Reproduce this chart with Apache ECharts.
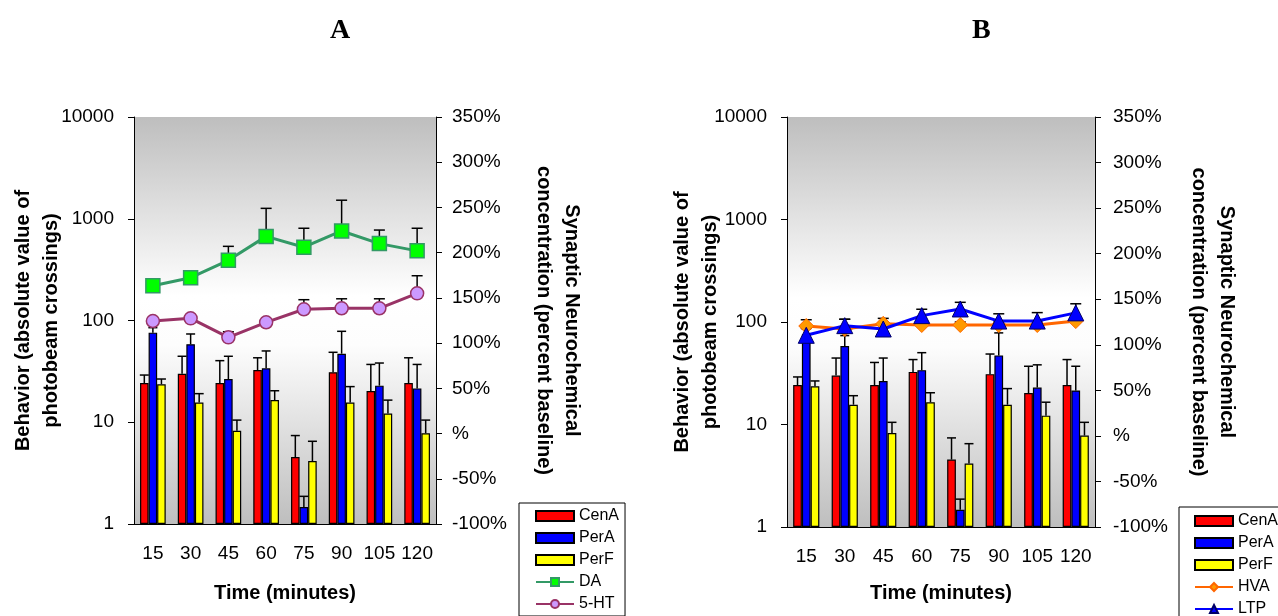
<!DOCTYPE html>
<html>
<head>
<meta charset="utf-8">
<script src="https://cdn.jsdelivr.net/npm/echarts@6/dist/echarts.min.js"></script>
<style>
html,body{margin:0;padding:0;background:#fff;}
#main{width:1278px;height:616px;}
</style>
</head>
<body>
<div id="main"></div>
<script>
// ---- data ----
const categories = ['15', '30', '45', '60', '75', '90', '105', '120'];
const cenA   = [24.3, 30, 24.3, 32.6, 4.55, 31, 20.3, 24.3];
const cenAUp = [29.1, 44.5, 40.3, 43, 7.4, 48.7, 37, 43];
const perA   = [76, 58.4, 26.6, 33.9, 1.47, 47.2, 22.9, 21.5];
const perAUp = [85, 73.7, 44.5, 50.2, 1.87, 78.3, 38.2, 37];
const perF   = [23.6, 15.6, 8.26, 16.5, 4.16, 15.6, 12.2, 7.8];
const perFUp = [26.6, 19.1, 10.5, 20.4, 6.5, 22.4, 16.5, 10.5];
const da     = [163.5, 172.3, 191.5, 218, 206, 224, 210, 202];
const daUp   = [170, 180, 207, 249, 227, 258, 225, 227];
const ht5    = [124.4, 127.4, 106.4, 123, 137.4, 138.5, 138.5, 155];
const ht5Up  = [127, 130, 112.6, 126, 148, 149, 149, 174.5];
const hva    = [120.6, 117.3, 123, 121.7, 121.7, 121.7, 121.7, 126];
const hvaUp  = [127.5, 128, 129, 125, 125, 125, 125, 129];
const ltp    = [110.4, 121, 117.3, 132, 139.3, 126, 126, 135];
const ltpUp  = [118, 128, 121, 139, 146.6, 134, 135.3, 145];
const leftTicksMax = 10000, leftTicksMin = 1;
const rightMin = -100, rightMax = 350, rightStep = 50;

const FONT = "'Liberation Sans', Arial, sans-serif";
const GAP = 0.32;

function barErrData(vals, ups, k) {
  return vals.map((v, i) => [i, v, ups[i], k]);
}
function lineErrData(vals, ups) {
  return vals.map((v, i) => [i, v, ups[i]]);
}
function barErrRender(params, api) {
  const i = api.value(0), v = api.value(1), up = api.value(2), k = api.value(3);
  const a = api.coord([i, v]);
  const b = api.coord([i, up]);
  const band = api.size([1, 0])[0];
  const w = band * (1 - GAP) / 3;
  const x = a[0] + (k - 1) * w;
  const cap = 4.5;
  const st = { stroke: '#000', lineWidth: 1.5 };
  return { type: 'group', children: [
    { type: 'line', shape: { x1: x, y1: a[1], x2: x, y2: b[1] }, style: st },
    { type: 'line', shape: { x1: x - cap, y1: b[1], x2: x + cap, y2: b[1] }, style: st }
  ]};
}
function lineErrRender(params, api) {
  const i = api.value(0), v = api.value(1), up = api.value(2);
  const a = api.coord([i, v]);
  const b = api.coord([i, up]);
  const cap = 5.5;
  const st = { stroke: '#000', lineWidth: 1.5 };
  return { type: 'group', children: [
    { type: 'line', shape: { x1: a[0], y1: a[1], x2: a[0], y2: b[1] }, style: st },
    { type: 'line', shape: { x1: a[0] - cap, y1: b[1], x2: a[0] + cap, y2: b[1] }, style: st }
  ]};
}

const bg = { type: 'linear', x: 0, y: 0, x2: 0, y2: 1, colorStops: [
  { offset: 0, color: '#bebebe' },
  { offset: 0.44, color: '#ffffff' },
  { offset: 0.56, color: '#fdfdfd' },
  { offset: 1, color: '#bebebe' }
]};

function xAxis(gridIndex, nameGap) {
  return {
    type: 'category', gridIndex, data: categories, boundaryGap: true,
    axisLine: { onZero: false, lineStyle: { color: '#000', width: 1 } },
    axisTick: { length: 6, lineStyle: { color: '#000' } },
    axisLabel: { color: '#000', fontSize: 19, fontFamily: FONT, margin: 20, interval: 0 },
    name: 'Time (minutes)', nameLocation: 'middle', nameGap,
    nameTextStyle: { color: '#000', fontSize: 20, fontWeight: 'bold', fontFamily: FONT }
  };
}
function yLeft(gridIndex, nameGap) {
  return {
    type: 'log', logBase: 10, gridIndex, min: leftTicksMin, max: leftTicksMax,
    axisLine: { show: true, lineStyle: { color: '#000', width: 1 } },
    axisTick: { show: true, length: 6, lineStyle: { color: '#000' } },
    splitLine: { show: false },
    axisLabel: { color: '#000', fontSize: 19, fontFamily: FONT, margin: 20,
      formatter: v => String(Math.round(v)) },
    name: 'Behavior (absolute value of\nphotobeam crossings)',
    nameLocation: 'middle', nameGap, nameRotate: 90, nameMoveOverlap: false,
    nameTextStyle: { color: '#000', fontSize: 20, fontWeight: 'bold', fontFamily: FONT, lineHeight: 28, align: 'center' }
  };
}
function yRight(gridIndex, nameGap, margin) {
  return {
    type: 'value', gridIndex, position: 'right', min: rightMin, max: rightMax, interval: rightStep,
    axisLine: { show: true, onZero: false, lineStyle: { color: '#000', width: 1 } },
    axisTick: { show: true, length: 6, lineStyle: { color: '#000' } },
    splitLine: { show: false },
    axisLabel: { color: '#000', fontSize: 19, fontFamily: FONT, margin,
      formatter: v => (v === 0 ? '%' : v + '%') },
    name: 'Synaptic Neurochemical\nconcentration (percent baseline)',
    nameLocation: 'middle', nameGap, nameRotate: -90, nameMoveOverlap: false,
    nameTextStyle: { color: '#000', fontSize: 20, fontWeight: 'bold', fontFamily: FONT, lineHeight: 28, align: 'center' }
  };
}

function bars(xi, yi) {
  const common = { type: 'bar', xAxisIndex: xi, yAxisIndex: yi, barGap: '0%', barCategoryGap: (GAP * 100) + '%' };
  return [
    Object.assign({ name: 'CenA', data: cenA, itemStyle: { color: '#ff0000', borderColor: '#000', borderWidth: 1.2 } }, common),
    Object.assign({ name: 'PerA', data: perA, itemStyle: { color: '#0000ff', borderColor: '#000', borderWidth: 1.2 } }, common),
    Object.assign({ name: 'PerF', data: perF, itemStyle: { color: '#ffff00', borderColor: '#000', borderWidth: 1.2 } }, common),
    { type: 'custom', xAxisIndex: xi, yAxisIndex: yi, renderItem: barErrRender, z: 3,
      encode: { x: 0, y: [1, 2] },
      data: [].concat(barErrData(cenA, cenAUp, 0), barErrData(perA, perAUp, 1), barErrData(perF, perFUp, 2)) }
  ];
}
function lineErr(xi, yi, vals, ups) {
  return { type: 'custom', xAxisIndex: xi, yAxisIndex: yi, renderItem: lineErrRender, z: 3,
    encode: { x: 0, y: [1, 2] }, data: lineErrData(vals, ups) };
}

const legendCommon = {
  orient: 'vertical', itemWidth: 38, itemHeight: 10, itemGap: 6,
  borderColor: '#000', borderWidth: 1, backgroundColor: '#fff',
  textStyle: { fontFamily: FONT, fontSize: 16, color: '#000', lineHeight: 16 }
};
const barLegend = [{ name: 'CenA', icon: 'rect' }, { name: 'PerA', icon: 'rect' }, { name: 'PerF', icon: 'rect' }];

const option = {
  animation: false,
  backgroundColor: '#fff',
  title: [
    { text: 'A', left: 325, top: 12, textStyle: { fontFamily: "'Liberation Serif', 'Times New Roman', serif", fontSize: 28, fontWeight: 'bold', color: '#000' } },
    { text: 'B', left: 967, top: 12, textStyle: { fontFamily: "'Liberation Serif', 'Times New Roman', serif", fontSize: 28, fontWeight: 'bold', color: '#000' } }
  ],
  grid: [
    { left: 134, right: 1278 - 436, top: 117, bottom: 616 - 524, show: true, backgroundColor: bg, borderWidth: 0 },
    { left: 787, right: 1278 - 1095, top: 117, bottom: 616 - 527, show: true, backgroundColor: bg, borderWidth: 0 }
  ],
  legend: [
    Object.assign({ left: 519, top: 503, height: 130, data: barLegend.concat(['DA', '5-HT']), padding: [5, 6, 4, 16] }, legendCommon),
    Object.assign({ left: 1179, top: 507, height: 130, data: barLegend.concat(['HVA', 'LTP']), padding: [6, 6, 4, 15] }, legendCommon)
  ],
  xAxis: [ xAxis(0, 59), xAxis(1, 56) ],
  yAxis: [ yLeft(0, 69), yRight(0, 94, 16), yLeft(1, 63), yRight(1, 90, 18) ],
  series: [].concat(
    bars(0, 0),
    [
      lineErr(0, 1, da, daUp),
      lineErr(0, 1, ht5, ht5Up),
      { name: 'DA', type: 'line', xAxisIndex: 0, yAxisIndex: 1, data: da, z: 5,
        symbol: 'rect', symbolSize: 14, lineStyle: { color: '#339966', width: 3 },
        itemStyle: { color: '#00ff00', borderColor: '#339966', borderWidth: 1.5 } },
      { name: '5-HT', type: 'line', xAxisIndex: 0, yAxisIndex: 1, data: ht5, z: 5,
        symbol: 'circle', symbolSize: 13, lineStyle: { color: '#993366', width: 3 },
        itemStyle: { color: '#cc99ff', borderColor: '#993366', borderWidth: 1.5 } }
    ],
    bars(1, 2),
    [
      lineErr(1, 3, hva, hvaUp),
      lineErr(1, 3, ltp, ltpUp),
      { name: 'HVA', type: 'line', xAxisIndex: 1, yAxisIndex: 3, data: hva, z: 5,
        symbol: 'diamond', symbolSize: 15, lineStyle: { color: '#ff6600', width: 3 },
        itemStyle: { color: '#ff9900', borderColor: '#ff6600', borderWidth: 1 } },
      { name: 'LTP', type: 'line', xAxisIndex: 1, yAxisIndex: 3, data: ltp, z: 6,
        symbol: 'triangle', symbolSize: 16, lineStyle: { color: '#0000ff', width: 3 },
        itemStyle: { color: '#0000ff', borderColor: '#000066', borderWidth: 1 } }
    ]
  )
};

const chart = echarts.init(document.getElementById('main'), null, { renderer: 'canvas' });
chart.setOption(option);
</script>
</body>
</html>
